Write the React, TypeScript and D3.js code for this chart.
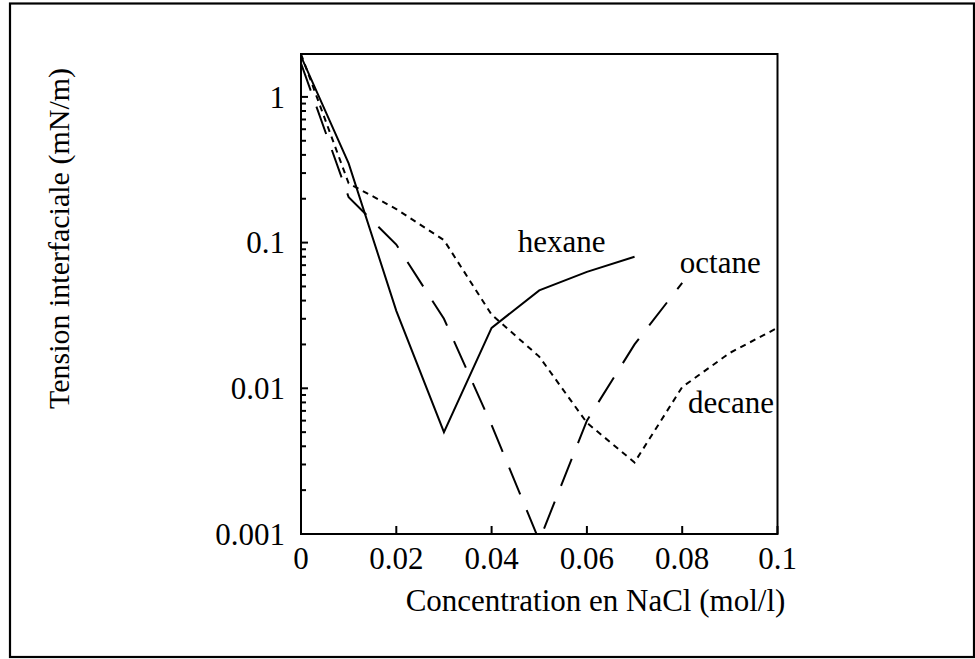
import React from "react";
import * as d3 from "d3";

const xValues = [0, 0.01, 0.02, 0.03, 0.04, 0.05, 0.06, 0.07, 0.08, 0.09, 0.1];
const hexane = [1.9, 0.35, 0.034, 0.005, 0.026, 0.047, 0.063, 0.08];
const octane = [1.7, 0.205, 0.097, 0.03, 0.0056, 0.0009, 0.006, 0.02, 0.053];
const decane = [1.97, 0.255, 0.17, 0.104, 0.032, 0.0165, 0.0058, 0.0031, 0.0102, 0.0175, 0.026];

const xTicks = [0, 0.02, 0.04, 0.06, 0.08, 0.1];
const xTickLabels = ["0", "0.02", "0.04", "0.06", "0.08", "0.1"];
const yTicks = [0.001, 0.01, 0.1, 1];
const yTickLabels = ["0.001", "0.01", "0.1", "1"];

const seriesNames = ["hexane", "octane", "decane"];
const labelX = [0.0455, 0.0795, 0.0812];
const labelY = [0.0863, 0.0622, 0.00678];

const xTitle = "Concentration en NaCl (mol/l)";
const yTitle = "Tension interfaciale (mN/m)";

const W = 975;
const H = 659;
const left = 301;
const right = 777.5;
const top = 54;
const bottom = 534;
const FONT = "'Liberation Serif', 'Times New Roman', serif";

export default function App() {
  const x = d3.scaleLinear().domain([0, 0.1]).range([left, right]);
  const y = d3.scaleLog().domain([0.001, 1.97]).range([bottom, top]);

  const line = d3
    .line<[number, number]>()
    .x((d) => x(d[0]))
    .y((d) => y(d[1]));

  const mk = (vals: number[]) => vals.map((v, i) => [xValues[i], v] as [number, number]);

  const series = [
    { data: mk(hexane), dash: "none" },
    { data: mk(octane), dash: "29,17" },
    { data: mk(decane), dash: "6,5" },
  ];

  const minor: number[] = [];
  for (let e = -3; e <= 0; e++) {
    for (let m = 2; m <= 9; m++) {
      const v = m * Math.pow(10, e);
      if (v < 1.97) minor.push(v);
    }
  }

  return (
    <svg
      width={W}
      height={H}
      style={{ position: "absolute", left: 0, top: 0, background: "#fff" }}
      fontFamily={FONT}
    >
      <rect x={0} y={0} width={W} height={H} fill="#fff" />
      <rect x={10} y={3.5} width={964} height={653.5} fill="none" stroke="#000" strokeWidth={2.2} />
      <defs>
        <clipPath id="plotClip">
          <rect x={left} y={top} width={right - left} height={bottom - top} />
        </clipPath>
      </defs>

      <g clipPath="url(#plotClip)">
        {series.map((s, i) => (
          <path
            key={i}
            d={line(s.data) || ""}
            fill="none"
            stroke="#000"
            strokeWidth={2}
            strokeDasharray={s.dash}
          />
        ))}
      </g>

      <rect
        x={left}
        y={top}
        width={right - left}
        height={bottom - top}
        fill="none"
        stroke="#000"
        strokeWidth={2}
      />

      {xTicks.map((t, i) => (
        <g key={"xt" + i}>
          <line x1={x(t)} x2={x(t)} y1={bottom} y2={bottom - 8} stroke="#000" strokeWidth={2} />
          <text x={x(t)} y={bottom + 35} textAnchor="middle" fontSize={31}>
            {xTickLabels[i]}
          </text>
        </g>
      ))}

      {yTicks.map((t, i) => (
        <g key={"yt" + i}>
          <line x1={left} x2={left + 7} y1={y(t)} y2={y(t)} stroke="#000" strokeWidth={2} />
          <text x={left - 16} y={y(t)} dy="0.35em" textAnchor="end" fontSize={31}>
            {yTickLabels[i]}
          </text>
        </g>
      ))}
      {minor.map((t, i) => (
        <line key={"ym" + i} x1={left} x2={left + 5} y1={y(t)} y2={y(t)} stroke="#000" strokeWidth={2} />
      ))}

      {seriesNames.map((n, i) => (
        <text key={n} x={x(labelX[i])} y={y(labelY[i])} fontSize={31}>
          {n}
        </text>
      ))}

      <text x={595.5} y={611} textAnchor="middle" fontSize={31}>
        {xTitle}
      </text>
      <text transform="translate(69,238.5) rotate(-90)" textAnchor="middle" fontSize={30}>
        {yTitle}
      </text>
    </svg>
  );
}
